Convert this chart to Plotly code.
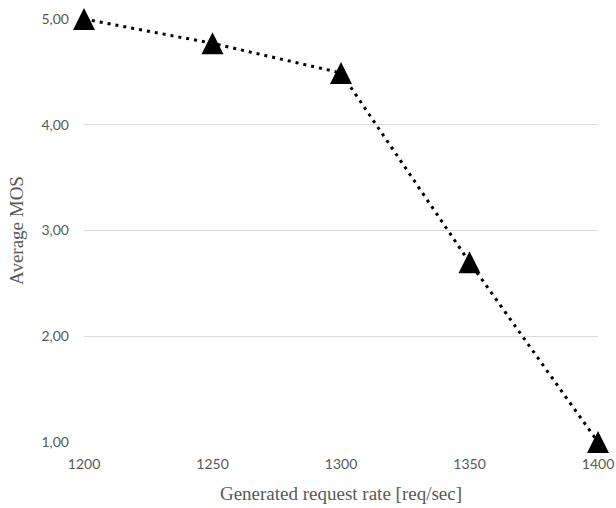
import plotly.graph_objects as go

rates = [1200, 1250, 1300, 1350, 1400]
mos = [5.00, 4.77, 4.49, 2.70, 1.00]
y_ticks = [1, 2, 3, 4, 5]
y_tick_labels = ["1,00", "2,00", "3,00", "4,00", "5,00"]
x_ticks = [1200, 1250, 1300, 1350, 1400]
x_tick_labels = ["1200", "1250", "1300", "1350", "1400"]

fig = go.Figure()
fig.add_trace(go.Scatter(
    x=rates, y=mos, mode="lines",
    line=dict(color="black", width=3, dash="3px,5px"),
    cliponaxis=False, showlegend=False, hoverinfo="skip",
))
fig.add_trace(go.Scatter(
    x=rates, y=mos, mode="markers",
    marker=dict(symbol="arrow-down", angle=180, standoff=11, size=22, color="black",
                line=dict(width=0)),
    cliponaxis=False, showlegend=False,
))

tick_font = dict(family="Lato, Open Sans, sans-serif", size=14, color="#595959")
title_font = dict(family="Liberation Serif, DejaVu Serif, serif", size=19, color="#595959")

fig.update_layout(
    width=616, height=508,
    margin=dict(l=84, r=18, t=19, b=66, autoexpand=False),
    paper_bgcolor="white", plot_bgcolor="white",
    xaxis=dict(
        range=[1200, 1400], tickvals=x_ticks, ticktext=x_tick_labels,
        showgrid=False, zeroline=False, showline=False, ticks="", automargin=False,
        tickfont=tick_font, ticklabelstandoff=12,
        title=dict(text="Generated request rate [req/sec]", font=title_font, standoff=15),
    ),
    yaxis=dict(
        range=[1, 5], tickvals=y_ticks, ticktext=y_tick_labels,
        showgrid=True, gridcolor="#d9d9d9", gridwidth=1, zeroline=False, showline=False, ticks="", automargin=False,
        tickfont=tick_font, ticklabelstandoff=14,
        title=dict(text="Average MOS", font=title_font, standoff=12),
    ),
)

fig.write_html("out.html", config={"displayModeBar": False},
               post_script="document.body.style.margin='0';")
